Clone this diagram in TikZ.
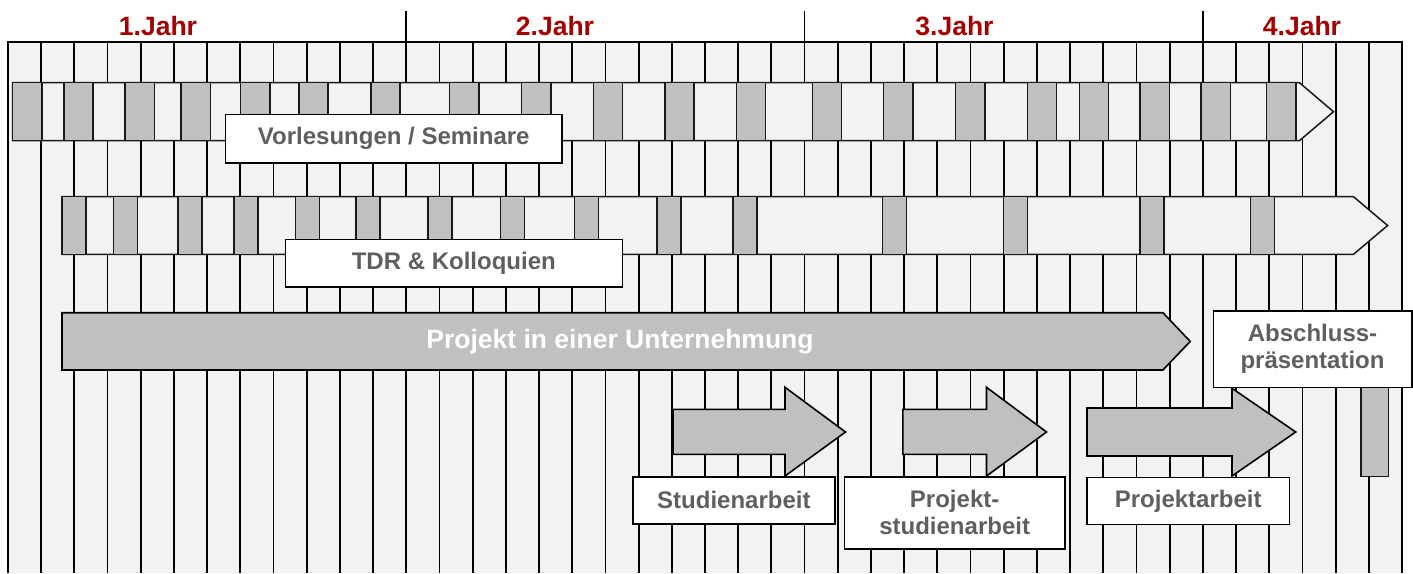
\documentclass[tikz,border=0pt]{standalone}
\usepackage{fontspec}
\setmainfont{Liberation Sans}
\definecolor{bg}{HTML}{F2F2F2}
\definecolor{gr}{HTML}{C0C0C0}
\definecolor{tx}{HTML}{5F5F5F}
\definecolor{yr}{HTML}{A50000}
\tikzset{
  gridline/.style={draw=black, line width=1.8pt},
  bar/.style={draw=black!90, line width=1.5pt, fill=bg},
  gbox/.style={draw=black!90, line width=1.5pt, fill=gr},
  bigarrow/.style={draw=black, line width=1.6pt, fill=gr, line join=miter},
  lbl/.style={draw=black, line width=1.6pt, fill=white, text=tx, font=\bfseries\fontsize{24}{27}\selectfont, align=center, inner sep=0pt},
  yearlbl/.style={text=yr, font=\bfseries\fontsize{26.5}{28}\selectfont, inner sep=0pt},
}
\begin{document}
\begin{tikzpicture}[x=1pt,y=-1pt]
\useasboundingbox (0,0) rectangle (1413,573);
\fill[white] (0,0) rectangle (1413,573);
% grid
\fill[bg] (8,41.7) rectangle (1402,573);
\foreach \i in {0,...,42} \draw[gridline] ({8+\i*33.19},41.7) -- ({8+\i*33.19},573);
\draw[gridline] (7.1,41.7) -- (1402.9,41.7);
\foreach \i in {12,24,36} \draw[gridline] ({8+\i*33.19},11) -- ({8+\i*33.19},41.7);
% year labels
\node[yearlbl] (y1) at (158,26) {1.Jahr};
\node[yearlbl] (y2) at (555,26) {2.Jahr};
\node[yearlbl] (y3) at (954.5,26) {3.Jahr};
\node[yearlbl] (y4) at (1302,26) {4.Jahr};
% bar 1
\draw[bar] (12.7,82.7) -- (1299.4,82.7) -- (1333.5,111.7) -- (1299.4,140.7) -- (12.7,140.7) -- cycle;
\foreach \x in {12.7,63.9,125,181.2,240.5,298.9,370.9,449.7,521.7,593.3,664.9,736.4,812.3,883.7,955.6,1027.4,1079.3,1140.2,1201.1,1266.6}
  \draw[gbox] (\x,82.7) rectangle ({\x+29.3},140.7);
\node[lbl, minimum width=336.5pt, minimum height=48.4pt] (vl) at (393.75,138.5) {Vorlesungen / Seminare};
% bar 2
\draw[bar] (62,196.7) -- (1353.5,196.7) -- (1387.6,225.5) -- (1353.5,254.3) -- (62,254.3) -- cycle;
\foreach \x in {62,113.7,178,234.1,295.7,356,428,500.5,574.3,657.2,733.2,882.4,1003.3,1140.2,1250.7}
  \draw[gbox] (\x,196.7) rectangle ({\x+24},254.3);
\node[lbl, minimum width=337pt, minimum height=47.7pt] (tdr) at (453.8,263.15) {TDR \& Kolloquien};
% project bar
\draw[bigarrow] (62,312.7) -- (1162.9,312.7) -- (1190.2,341.4) -- (1162.9,370) -- (62,370) -- cycle;
\node[text=white, font=\bfseries\fontsize{26.5}{28}\selectfont, inner sep=0pt] (pu) at (620,341.4) {Projekt in einer Unternehmung};
% arrows
\draw[bigarrow] (673,409.3) -- (785,409.3) -- (785,387.3) -- (845.5,432) -- (785,476) -- (785,454.3) -- (673,454.3) -- cycle;
\draw[bigarrow] (902.8,409.3) -- (986.5,409.3) -- (986.5,387.3) -- (1046.5,432) -- (986.5,476) -- (986.5,454.3) -- (902.8,454.3) -- cycle;
\draw[bigarrow] (1087,408) -- (1232,408) -- (1232,388.3) -- (1295.7,432) -- (1232,476) -- (1232,456) -- (1087,456) -- cycle;
% small bar under Abschluss
\draw[gbox] (1361,387.3) rectangle (1388.7,476.7);
% labels
\node[lbl, minimum width=202.3pt, minimum height=47.3pt] (sa) at (733.85,500.35) {Studienarbeit};
\node[lbl, minimum width=220.1pt, minimum height=72pt] (psa) at (954.65,512.7) {Projekt-\\studienarbeit};
\node[lbl, minimum width=202.4pt, minimum height=47.3pt] (pa) at (1188.2,501) {Projektarbeit};
\node[lbl, minimum width=198.4pt, minimum height=76.6pt] (ap) at (1312.5,349) {Abschluss-\\präsentation};
\end{tikzpicture}
\end{document}
